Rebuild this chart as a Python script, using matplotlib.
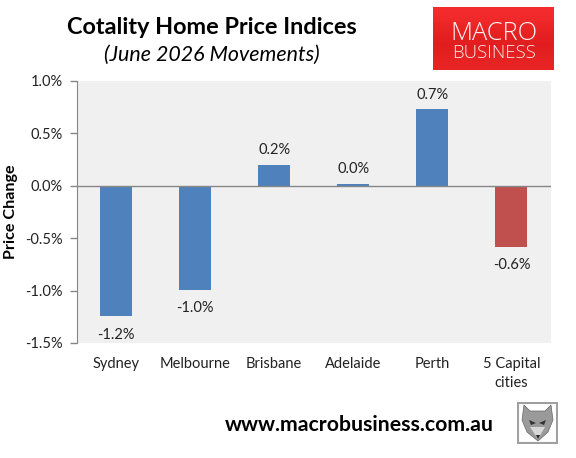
from matplotlib import pyplot as plt
from matplotlib.colors import LinearSegmentedColormap
from matplotlib.patches import Rectangle, Polygon
import numpy as np

cities = ['Sydney', 'Melbourne', 'Brisbane', 'Adelaide', 'Perth', '5 Capital\ncities']
changes = [-1.24, -0.99, 0.20, 0.02, 0.73, -0.58]
labels = ['-1.2%', '-1.0%', '0.2%', '0.0%', '0.7%', '-0.6%']
yticks = [-1.5, -1.0, -0.5, 0.0, 0.5, 1.0]
ylabels = ['-1.5%', '-1.0%', '-0.5%', '0.0%', '0.5%', '1.0%']

W, H = 576, 458
plt.rcParams['font.family'] = ['Lato', 'DejaVu Sans']

def box(x0, y0, x1, y1):
    # pixel box (y from top) to figure coords
    return [x0 / W, 1 - y1 / H, (x1 - x0) / W, (y1 - y0) / H]

fig = plt.figure(figsize=(W / 100, H / 100), dpi=100)
ax = fig.add_axes(box(76.5, 81, 551, 343))
ax.set_facecolor('#f0f0f0')
colors = ['#4f81bd'] * 5 + ['#c0504d']
x = np.arange(len(cities))
ax.bar(x, changes, width=0.405, color=colors, zorder=2)
ax.set_xlim(-0.5, 5.5)
ax.set_ylim(-1.5, 1.0)
ax.set_yticks(yticks, ylabels, fontsize=10.5, color='#222222')
ax.set_xticks(x, cities, fontsize=10.5, color='#222222', linespacing=1.45)
ax.tick_params(axis='x', length=0, pad=10)
ax.tick_params(axis='y', length=5, color='#868686', width=1, pad=5)
for s in ['top', 'right', 'bottom']:
    ax.spines[s].set_visible(False)
ax.spines['left'].set_color('#868686')
ax.axhline(0, color='#868686', lw=1, zorder=3)
fig.text(11.5 / W, 1 - 212 / H, 'Price Change', rotation=90, ha='center', va='center',
         fontsize=11.6, fontweight='bold', color='black')
for i, v in enumerate(changes):
    off = 5.5 if v > 0 else -8.5
    ax.annotate(labels[i], (x[i], v), xytext=(0, off), textcoords='offset points',
                ha='center', va='bottom' if v > 0 else 'top', fontsize=10.5, color='#222222')

fig.text(212 / W, 1 - 27 / H, 'Cotality Home Price Indices', ha='center', va='center',
         fontsize=16.9, fontweight='bold', color='black')
fig.text(212 / W, 1 - 55 / H, '(June 2026 Movements)', ha='center', va='center',
         fontsize=15.4, style='italic', color='black')
fig.text(359.5 / W, 1 - 425 / H, 'www.macrobusiness.com.au', ha='center', va='center',
         fontsize=15.3, fontweight='bold', color='black')

# logo, red with a lighter top
logo = fig.add_axes(box(433, 7, 554, 70))
grad = np.array([[1.0], [0.75], [0.45], [0.3], [0.4], [0.6]])
logo.imshow(grad, aspect='auto', cmap=LinearSegmentedColormap.from_list('r', ['#d81818', '#f52c2e']),
            vmin=0, vmax=1, interpolation='bicubic', extent=(0, 1, 0, 1))
logo.axis('off')
logo.text(0.5, 0.585, 'MACRO', color='#fbf4f4', ha='center', va='center', fontsize=18.3,
          fontfamily='Open Sans', fontweight='light')
logo.text(0.5, 0.27, 'BUSINESS', color='#f8ecec', ha='center', va='center', fontsize=13.4,
          fontfamily='Open Sans', fontweight='light')

# wolf badge
wolf = fig.add_axes(box(517, 402, 558, 444))
wolf.set_xlim(0, 41)
wolf.set_ylim(42, 0)
wolf.axis('off')
wolf.add_patch(Rectangle((1, 1), 39, 40, fc='white', ec='#a0a0a0', lw=1.5))
wolf.add_patch(Polygon([(7, 3), (13, 9), (28, 9), (34, 3), (36, 18), (31, 30), (21, 39), (10, 30), (5, 18)],
                       fc='#9a9a9a', ec='#666666', lw=0.5))
wolf.add_patch(Polygon([(12, 18), (19, 21), (14, 23)], fc='#333333'))
wolf.add_patch(Polygon([(29, 18), (22, 21), (27, 23)], fc='#333333'))
wolf.add_patch(Polygon([(13, 25), (28, 25), (21, 37)], fc='#d8d8d8'))
wolf.add_patch(Polygon([(19, 33), (23, 33), (21, 37)], fc='#222222'))

fig.savefig('out.png', dpi=100)
